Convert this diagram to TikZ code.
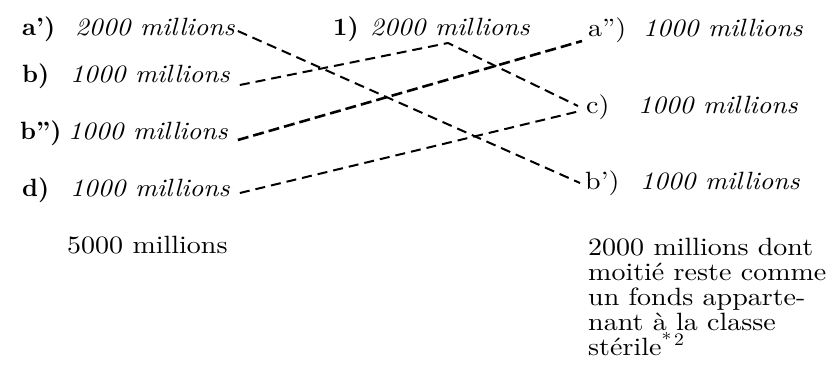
\documentclass[tikz,border=0pt]{standalone}
\usepackage{fontspec}
\newfontfamily\rmreg{lmroman10-regular.otf}[Ligatures=TeX, FakeStretch=1.12]
\newfontfamily\rmit{lmroman10-italic.otf}[Ligatures=TeX, FakeStretch=1.08]
\newfontfamily\rmbf{lmroman10-bold.otf}[Ligatures=TeX, FakeStretch=1.0]
\begin{document}
\begin{tikzpicture}[x=1pt,y=-1pt,
  txt/.style={inner sep=0pt, anchor=base west, font=\fontsize{25}{25}\selectfont\rmreg},
  lab/.style={txt, font=\fontsize{25}{25}\selectfont\rmbf},
  val/.style={txt, font=\fontsize{25}{25}\selectfont\rmit},
  link/.style={dash pattern=on 10pt off 6pt, line width=2pt},
  heavylink/.style={dash pattern=on 11pt off 5pt, line width=2.6pt}]
\useasboundingbox (0,0) rectangle (829,383);
% left column
\node[lab] (la1) at (22,35) {a')};
\node[val] (va1) at (75,35) {2000 millions};
\node[lab] (lb) at (22,82) {b)};
\node[val] (vb) at (70,82) {1000 millions};
\node[lab] (lb2) at (20,139) {b'')};
\node[val] (vb2) at (68,139) {1000 millions};
\node[lab] (ld) at (22,196) {d)};
\node[val] (vd) at (70,196) {1000 millions};
\node[txt] (tot) at (67,253) {5000 millions};
% middle
\node[lab] (l1) at (333,35) {1)};
\node[val] (v1) at (370,35) {2000 millions};
% right column
\node[txt] (ra) at (588,36) {a'')};
\node[val] (rav) at (643,36) {1000 millions};
\node[txt] (rc) at (586,113) {c)};
\node[val] (rcv) at (638,113) {1000 millions};
\node[txt] (rb) at (585,189) {b')};
\node[val] (rbv) at (640,189) {1000 millions};
\node[txt] (n1) at (588,255) {2000 millions dont};
\node[txt] (n2) at (588,280) {moitié reste comme};
\node[txt] (n3) at (588,305) {un fonds apparte-};
\node[txt] (n4) at (588,330) {nant à la classe};
\node[txt] (n5) at (588,355) {stérile\textsuperscript{*\,2}};
% connectors
\coordinate (apex) at (448,43);
\draw[link] ([xshift=3pt,yshift=4pt]va1.base east) -- ([xshift=-5pt,yshift=6pt]rb.base west);
\draw[link] ([xshift=10pt,yshift=-3pt]vb.base east) -- (apex) -- ([xshift=-8pt,yshift=7pt]rc.base west);
\draw[heavylink] ([xshift=10pt,yshift=-1pt]vb2.base east) -- ([xshift=-6pt,yshift=-5pt]ra.base west);
\draw[link] ([xshift=10pt,yshift=3pt]vd.base east) -- ([xshift=-6pt,yshift=2pt]rc.base west);
\end{tikzpicture}
\end{document}
